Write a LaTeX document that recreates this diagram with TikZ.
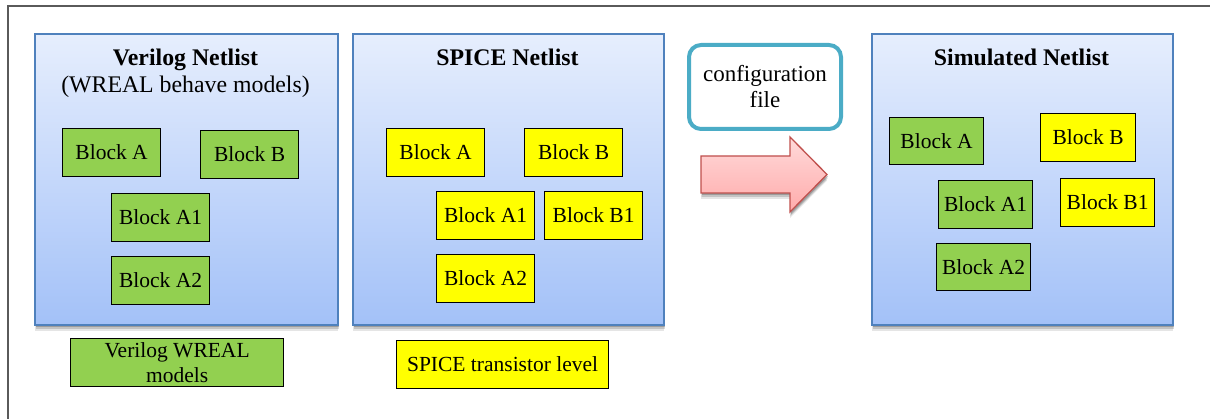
\documentclass[tikz,border=0pt]{standalone}
\usepackage{fontspec}
\setmainfont{Liberation Serif}
\usetikzlibrary{shadows}
\definecolor{frameGray}{HTML}{5A5A5A}
\definecolor{panelTop}{HTML}{E6EEFD}
\definecolor{panelBot}{HTML}{A3C1F8}
\definecolor{panelEdge}{HTML}{4F81BD}
\definecolor{blockGreen}{HTML}{92D050}
\definecolor{blockYellow}{HTML}{FFFF00}
\definecolor{cfgEdge}{HTML}{4BACC6}
\definecolor{arrowTop}{HTML}{FFDADA}
\definecolor{arrowBot}{HTML}{FFABAB}
\definecolor{arrowEdge}{HTML}{C0504D}
\tikzset{
  softshadow/.style={
    drop shadow={shadow xshift=0pt, shadow yshift=-6pt, opacity=0.10, fill=black},
    drop shadow={shadow xshift=0.5pt, shadow yshift=-4pt, opacity=0.15, fill=black},
    drop shadow={shadow xshift=1pt, shadow yshift=-2pt, opacity=0.2, fill=black}},
  panel/.style={draw=panelEdge, line width=2pt, top color=panelTop, bottom color=panelBot,
    anchor=north west, inner sep=0pt, softshadow},
  title/.style={anchor=base, font=\fontsize{23.8}{27}\selectfont\bfseries, inner sep=0pt},
  subtitle/.style={anchor=base, font=\fontsize{23.8}{27}\selectfont, inner sep=0pt},
  blockbox/.style={draw=black, line width=1.2pt, anchor=north west, inner sep=0pt,
    minimum width=98pt, minimum height=48pt, align=center,
    font=\fontsize{21.5}{24}\selectfont},
  gblock/.style={blockbox, fill=blockGreen},
  yblock/.style={blockbox, fill=blockYellow},
}
\begin{document}
\begin{tikzpicture}[x=1pt,y=-1pt]
\useasboundingbox (0,0) rectangle (1210,419);
% outer frame (top and left edges)
\draw[frameGray, line width=2pt] (7.5,419) -- (7.5,6.5) -- (1210,6.5);

% three netlist panels
\node[panel, minimum width=303pt, minimum height=291pt] (verilog) at (34,33) {};
\node[panel, minimum width=311pt, minimum height=291pt] (spice) at (352,33) {};
\node[panel, minimum width=301pt, minimum height=291pt] (sim) at (871,33) {};

\node[title] (vtitle) at (185.5,66) {Verilog Netlist};
\node[subtitle] (vsub) at (185.5,93) {(WREAL behave models)};
\node[title] (stitle) at (507.5,66) {SPICE Netlist};
\node[title] (mtitle) at (1021.5,66) {Simulated Netlist};

% Verilog netlist blocks
\node[gblock] (vA) at (62,128) {Block A};
\node[gblock] (vB) at (200,130) {Block B};
\node[gblock] (vA1) at (111,193) {Block A1};
\node[gblock] (vA2) at (111,256) {Block A2};

% SPICE netlist blocks
\node[yblock] (sA) at (386,128) {Block A};
\node[yblock] (sB) at (524,128) {Block B};
\node[yblock] (sA1) at (436,191) {Block A1};
\node[yblock] (sB1) at (544,191) {Block B1};
\node[yblock] (sA2) at (436,254) {Block A2};

% simulated netlist blocks (mixed)
\node[gblock, minimum width=94pt, minimum height=47pt] (mA) at (889,117) {Block A};
\node[yblock, minimum width=95pt, minimum height=48pt] (mB) at (1040,113) {Block B};
\node[gblock, minimum width=94pt, minimum height=48pt] (mA1) at (938,180) {Block A1};
\node[yblock, minimum width=94pt, minimum height=48pt] (mB1) at (1060,178) {Block B1};
\node[gblock, minimum width=94pt, minimum height=47pt] (mA2) at (936,243) {Block A2};

% legend boxes
\node[gblock, minimum width=213pt, minimum height=48pt, font=\fontsize{21.5}{24.5}\selectfont]
  (vleg) at (70,338) {Verilog WREAL\\models};
\node[yblock, minimum width=212pt, minimum height=48pt] (sleg) at (396,340) {SPICE transistor level};

% configuration file
\node[draw=cfgEdge, line width=4pt, rounded corners=12pt, fill=white,
  minimum width=152pt, minimum height=84pt, inner sep=0pt, align=center,
  font=\fontsize{23}{26}\selectfont] (cfg) at (765,87) {configuration\\file};

% block arrow
\draw[arrowEdge, line width=1.3pt, top color=arrowTop, bottom color=arrowBot, softshadow]
  (701,156) -- (790,156) -- (790,137) -- (827,174.5) -- (790,212) -- (790,193) -- (701,193) -- cycle;
\end{tikzpicture}
\end{document}
